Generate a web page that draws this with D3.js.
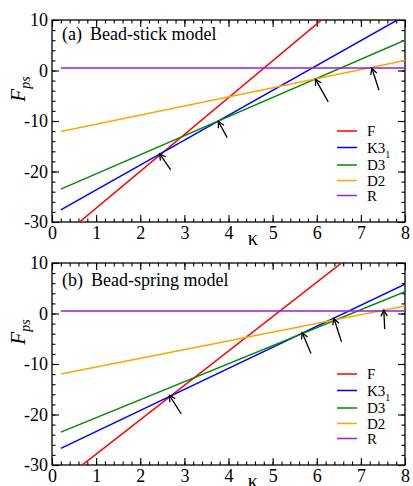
<!DOCTYPE html>
<html>
<head>
<meta charset="utf-8">
<script src="https://cdn.jsdelivr.net/npm/d3@7"></script>
<style>
  body { margin: 0; background: #fff; }
  text { font-family: "Liberation Serif", "Times New Roman", serif; }
</style>
</head>
<body>
<div id="chart"></div>
<script>
// series: kappa endpoints and F_ps values at those ends (straight fits)
var kappa = [0.2, 8];
var seriesNames = ['F', 'K3', 'D3', 'D2', 'R'];
var seriesColors = ['#ff0000', '#0000ff', '#008b00', '#ffa500', '#9a1ee0'];

// panel (a) bead-stick model
var stickF  = [-33.1, 23.8];
var stickK3 = [-27.6, 10.85];
var stickD3 = [-23.5, 6.0];
var stickD2 = [-12.1, 2.0];
var stickR  = [0.5, 0.5];
// arrows: [tip kappa, tip F, tail kappa, tail F]
var stickArrows = [
  [2.44, -16.5, 2.69, -19.7],
  [3.77, -10.1, 3.97, -13.3],
  [5.97, -1.7, 6.26, -6.2],
  [7.25, 0.45, 7.41, -3.9]
];

// panel (b) bead-spring model
var springF  = [-33.3, 19.8];
var springK3 = [-26.7, 5.8];
var springD3 = [-23.5, 4.3];
var springD2 = [-12.0, 1.5];
var springR  = [0.5, 0.5];
var springArrows = [
  [2.66, -16.2, 2.93, -19.9],
  [5.67, -3.8, 5.87, -7.9],
  [6.39, -1.0, 6.56, -5.6],
  [7.52, 0.65, 7.54, -3.1]
];

var xTicks = [0, 1, 2, 3, 4, 5, 6, 7, 8];
var yTicks = [-30, -20, -10, 0, 10];

var W = 413, H = 486;
var left = 52, right = 405, plotH = 202;

var svg = d3.select('#chart').append('svg')
    .attr('width', W)
    .attr('height', H);

var defs = svg.append('defs');
defs.append('marker')
    .attr('id', 'head')
    .attr('viewBox', '-8 -5 10 10')
    .attr('refX', 0).attr('refY', 0)
    .attr('markerWidth', 10).attr('markerHeight', 10)
    .attr('markerUnits', 'userSpaceOnUse')
    .attr('orient', 'auto-start-reverse')
    .append('path')
    .attr('d', 'M-6,-3.2 L0,0 L-6,3.2')
    .attr('fill', 'none')
    .attr('stroke', '#000')
    .attr('stroke-width', 1.3);

var x = d3.scaleLinear().domain([0, 8]).range([0, right - left]);
var y = d3.scaleLinear().domain([-30, 10]).range([plotH, 0]);

var line = d3.line()
    .x(function(d) { return x(d[0]); })
    .y(function(d) { return y(d[1]); });

function drawPanel(top, id, values, arrows, tag, title, titleY) {
  var g = svg.append('g')
      .attr('transform', 'translate(' + left + ',' + top + ')');

  defs.append('clipPath').attr('id', 'clip' + id)
      .append('rect')
      .attr('width', x.range()[1]).attr('height', plotH);

  // minor and major ticks, all pointing inward
  var minorX = d3.range(0, 8.01, 0.2), minorY = d3.range(-30, 10.01, 2);

  g.append('g').attr('transform', 'translate(0,' + plotH + ')')
      .call(d3.axisBottom(x).tickValues(minorX).tickSize(-3.5).tickFormat(''));
  g.append('g').call(d3.axisTop(x).tickValues(minorX).tickSize(-3.5).tickFormat(''));
  g.append('g').call(d3.axisLeft(y).tickValues(minorY).tickSize(-3.5).tickFormat(''));
  g.append('g').attr('transform', 'translate(' + x.range()[1] + ',0)')
      .call(d3.axisRight(y).tickValues(minorY).tickSize(-3.5).tickFormat(''));

  g.append('g').attr('class', 'xaxis').attr('transform', 'translate(0,' + plotH + ')')
      .call(d3.axisBottom(x).tickValues(xTicks).tickSize(-7).tickPadding(4).tickFormat(d3.format('d')));
  g.append('g').call(d3.axisTop(x).tickValues(xTicks).tickSize(-7).tickFormat(''));
  g.append('g').attr('class', 'yaxis')
      .call(d3.axisLeft(y).tickValues(yTicks).tickSize(-7).tickPadding(4).tickFormat(function(d) { return String(d); }));
  g.append('g').attr('transform', 'translate(' + x.range()[1] + ',0)')
      .call(d3.axisRight(y).tickValues(yTicks).tickSize(-7).tickFormat(''));

  g.selectAll('.domain').remove();
  g.selectAll('.tick line').attr('stroke', '#000').attr('stroke-width', 1.1);
  g.selectAll('.xaxis text, .yaxis text')
      .attr('font-family', '"Liberation Serif", serif')
      .attr('font-size', 18)
      .attr('fill', '#000');

  // frame
  g.append('rect')
      .attr('width', x.range()[1]).attr('height', plotH)
      .attr('fill', 'none').attr('stroke', '#000').attr('stroke-width', 1.3);

  // series lines
  var plot = g.append('g').attr('clip-path', 'url(#clip' + id + ')');
  values.forEach(function(v, i) {
    plot.append('path')
        .datum(kappa.map(function(k, j) { return [k, v[j]]; }))
        .attr('d', line)
        .attr('fill', 'none')
        .attr('stroke', seriesColors[i])
        .attr('stroke-width', 1.5);
  });

  // arrows
  arrows.forEach(function(a) {
    g.append('line')
        .attr('x1', x(a[2])).attr('y1', y(a[3]))
        .attr('x2', x(a[0])).attr('y2', y(a[1]))
        .attr('stroke', '#000').attr('stroke-width', 1.3)
        .attr('marker-end', 'url(#head)');
  });

  // panel title
  var t = g.append('text')
      .attr('x', 10).attr('y', titleY)
      .attr('font-size', 18);
  t.append('tspan').text(tag);
  t.append('tspan').attr('dx', 8).text(title);

  // legend
  var rowY = [111, 127.5, 145, 160.5, 175.5];
  var leg = g.append('g').attr('transform', 'translate(285,0)');
  seriesNames.forEach(function(name, i) {
    leg.append('line')
        .attr('x1', 0).attr('x2', 20)
        .attr('y1', rowY[i]).attr('y2', rowY[i])
        .attr('stroke', seriesColors[i]).attr('stroke-width', 1.5);
    var lt = leg.append('text')
        .attr('x', 30).attr('y', rowY[i]).attr('dy', '0.35em')
        .attr('font-size', 15)
        .text(name);
    if (name === 'K3') {
      lt.append('tspan').attr('font-size', 10).attr('dy', 5).text('1');
    }
  });

  // axis titles
  g.append('text')
      .attr('x', x(4.55)).attr('y', plotH + 23)
      .attr('text-anchor', 'middle')
      .attr('font-size', 20)
      .text('\u03ba');

  var yl = g.append('text')
      .attr('transform', 'translate(-27,69) rotate(-90)')
      .attr('text-anchor', 'middle')
      .attr('font-size', 21)
      .attr('font-style', 'italic');
  yl.append('tspan').text('F');
  yl.append('tspan').attr('font-size', 14).attr('dy', 5).text('ps');
}

drawPanel(20, 'a', [stickF, stickK3, stickD3, stickD2, stickR], stickArrows,
    '(a)', 'Bead-stick model', 20);
drawPanel(263, 'b', [springF, springK3, springD3, springD2, springR], springArrows,
    '(b)', 'Bead-spring model', 23);
</script>
</body>
</html>
